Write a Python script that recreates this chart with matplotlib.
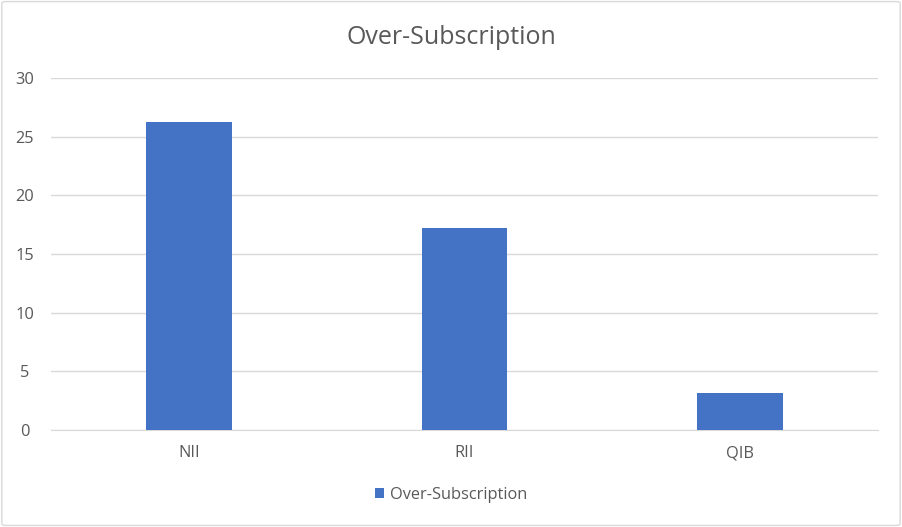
import matplotlib
matplotlib.use("Agg")
import matplotlib.pyplot as plt
from matplotlib.patches import FancyBboxPatch

categories = ["NII", "RII", "QIB"]
values = [26.25, 17.2, 3.15]
yticks = [0, 5, 10, 15, 20, 25, 30]
series_name = "Over-Subscription"
title = "Over-Subscription"

plt.rcParams['font.family'] = ['Open Sans', 'DejaVu Sans']
txt = "#595959"

fig = plt.figure(figsize=(9.02, 5.27), dpi=100)
fig.patch.set_facecolor("white")
border = FancyBboxPatch((0.002, 0.003), 0.996, 0.994, boxstyle="round,pad=0,rounding_size=0.004",
                        transform=fig.transFigure, fill=False, edgecolor="#D9D9D9", linewidth=1)
fig.patches.append(border)

ax = fig.add_axes([51.25/902, 1-430/527, 826.5/902, 352/527])
x = list(range(len(categories)))
ax.bar(x, values, width=0.312, color="#4472C4", zorder=3, label=series_name)
ax.set_xlim(-0.5, len(categories)-0.5)
ax.set_ylim(0, 30)
ax.set_yticks(yticks)
ax.set_yticklabels([str(t) for t in yticks])
ax.set_xticks(x)
ax.set_xticklabels(categories)
ax.grid(axis="y", color="#D9D9D9", linewidth=1, zorder=0)
for s in ["top", "right", "left"]:
    ax.spines[s].set_visible(False)
ax.spines["bottom"].set_color("#D9D9D9")
ax.tick_params(axis="both", length=0, colors=txt, labelsize=11.8)
ax.tick_params(axis="y", pad=19)
ax.tick_params(axis="x", pad=11)
for lbl in ax.get_yticklabels():
    lbl.set_horizontalalignment("center")

fig.text(0.5, 1-37/527, title, ha="center", va="center", fontsize=18, color=txt)

leg = fig.legend(loc="center", bbox_to_anchor=(0.5, 1-495/527), frameon=False,
                 fontsize=11.8, handlelength=0.55, handleheight=0.55, handletextpad=0.35)
for t in leg.get_texts():
    t.set_color(txt)

fig.savefig("out.png", dpi=100, facecolor="white")
